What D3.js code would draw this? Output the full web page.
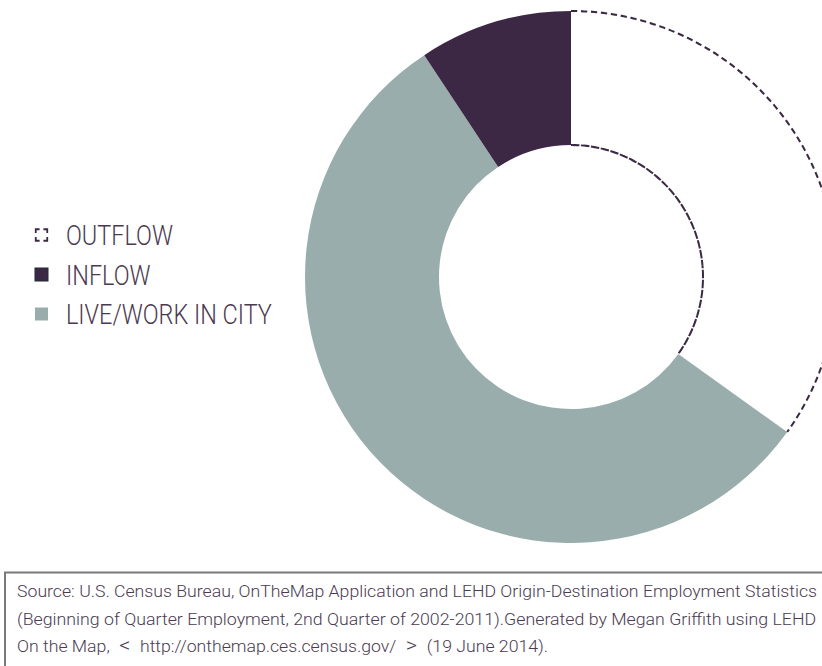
<!DOCTYPE html>
<html>
<head>
<meta charset="utf-8">
<script src="https://cdn.jsdelivr.net/npm/d3@7"></script>
<style>
  html, body { margin: 0; padding: 0; background: #fff; overflow: hidden; }
  svg { display: block; }
  text { font-family: Roboto, "Liberation Sans", sans-serif; font-weight: 300; }
</style>
</head>
<body>
<svg id="chart" width="822" height="666"></svg>
<script>
// Commuting flows, share of jobs (%)
const categories = ["OUTFLOW", "LIVE/WORK IN CITY", "INFLOW"];
const shares = [34.9, 55.8, 9.3];
const legendOrder = ["OUTFLOW", "INFLOW", "LIVE/WORK IN CITY"];
const sourceLines = [
  "Source: U.S. Census Bureau, OnTheMap Application and LEHD Origin-Destination Employment Statistics",
  "(Beginning of Quarter Employment, 2nd Quarter of 2002-2011).Generated by Megan Griffith using LEHD",
  "On the Map, < http://onthemap.ces.census.gov/ > (19 June 2014)."
];

const textColor = "#4b3a52";
const fills = { "OUTFLOW": "#ffffff", "LIVE/WORK IN CITY": "#9aadad", "INFLOW": "#3c2845" };

const svg = d3.select("#chart");
const cx = 571, cy = 277, rOuter = 266, rInner = 132;

const data = categories.map((c, i) => ({ cat: c, value: shares[i] }));
const pie = d3.pie().sort(null).value(d => d.value);
const arcs = pie(data);
const arc = d3.arc().innerRadius(rInner).outerRadius(rOuter);

const g = svg.append("g").attr("transform", `translate(${cx},${cy})`);

g.selectAll("path.slice")
  .data(arcs)
  .join("path")
  .attr("class", "slice")
  .attr("d", arc)
  .attr("fill", d => fills[d.data.cat]);

// Dashed outline along the arcs of the outflow ring segment
const out = arcs.find(a => a.data.cat === "OUTFLOW");
[rOuter, rInner].forEach(r => {
  const line = d3.arc().innerRadius(r).outerRadius(r)
    .startAngle(out.startAngle).endAngle(out.endAngle);
  g.append("path")
    .attr("d", line())
    .attr("fill", "none")
    .attr("stroke", "#3c2845")
    .attr("stroke-width", 2)
    .attr("stroke-dasharray", "6,4");
});

// Condensed text: squeeze horizontally about its start point
function condense(node, x, factor) {
  const y = +node.getAttribute("y");
  d3.select(node)
    .attr("transform", `translate(${x},${y}) scale(${factor},1)`)
    .attr("x", 0).attr("y", 0);
}

// Legend
const legend = svg.append("g").attr("transform", "translate(35,0)");
const ly = d3.scalePoint().domain(legendOrder).range([235, 314]);
legendOrder.forEach(c => {
  const y = ly(c);
  if (c === "OUTFLOW") {
    legend.append("rect")
      .attr("x", 0.75).attr("y", y - 5.75).attr("width", 11.5).attr("height", 11.5)
      .attr("fill", "none").attr("stroke", "#3c2845").attr("stroke-width", 1.8)
      .attr("stroke-dasharray", "3.83,3.83,3.83,0");
  } else {
    legend.append("rect")
      .attr("x", 0).attr("y", y - 6.5).attr("width", 13).attr("height", 13)
      .attr("fill", fills[c])
      .attr("stroke", c === "INFLOW" ? "#1f2a3a" : "none").attr("stroke-width", 1);
  }
});
const legendText = legend.selectAll("text")
  .data(legendOrder)
  .join("text")
  .attr("y", d => ly(d) + 10)
  .attr("font-size", 27)
  .attr("fill", textColor)
  .text(d => d);
const longest = legendText.filter(d => d === "LIVE/WORK IN CITY").node().getComputedTextLength();
legendText.each(function () { condense(this, 31, 206 / longest); });

// Source note box
svg.append("rect")
  .attr("x", 5).attr("y", 572.5).attr("width", 830).attr("height", 120)
  .attr("fill", "none").attr("stroke", "#7a7a7a").attr("stroke-width", 2);

const lineWidths = [801, 800];
const srcText = svg.selectAll("text.src")
  .data(sourceLines)
  .join("text")
  .attr("class", "src")
  .attr("y", (d, i) => 597 + i * 27.5)
  .attr("font-size", 17)
  .attr("fill", textColor);

// The angle brackets around the address are set wider, with extra space
srcText.each(function (d, i) {
  const t = d3.select(this);
  if (i < 2) { t.text(d); return; }
  d.split(/([<>])/).forEach(part => {
    const sp = t.append("tspan").text(part);
    if (part === "<" || part === ">") {
      sp.attr("font-size", 21).attr("dx", 5);
    } else if (part.startsWith(" ") && part !== d) {
      sp.attr("dx", 5);
    }
  });
});
const baseFactor = lineWidths[0] / srcText.node().getComputedTextLength();
srcText.each(function (d, i) {
  const f = i < lineWidths.length ? lineWidths[i] / this.getComputedTextLength() : baseFactor;
  condense(this, 17, f);
});
</script>
</body>
</html>
